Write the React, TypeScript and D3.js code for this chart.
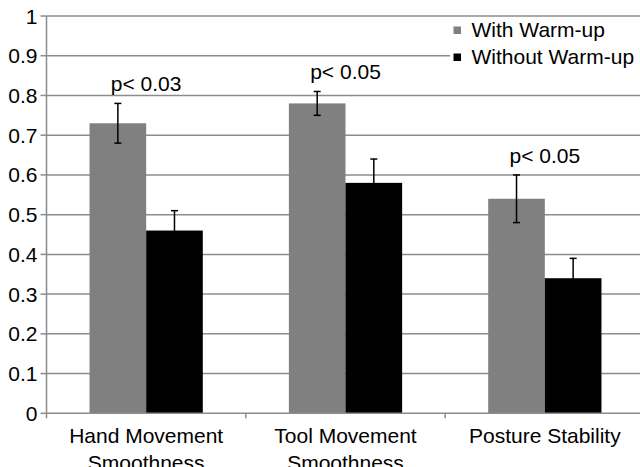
import React from 'react';
import * as d3 from 'd3';

const categories = [
  ['Hand Movement', 'Smoothness'],
  ['Tool Movement', 'Smoothness'],
  ['Posture Stability'],
];
const seriesNames = ['With Warm-up', 'Without Warm-up'];
const withWarmup = [0.73, 0.78, 0.54];
const withWarmupErr = [0.05, 0.03, 0.06];
const withoutWarmup = [0.46, 0.58, 0.34];
const withoutWarmupErr = [0.05, 0.06, 0.05];
const pLabels = ['p< 0.03', 'p< 0.05', 'p< 0.05'];
const yTicks = [0, 0.1, 0.2, 0.3, 0.4, 0.5, 0.6, 0.7, 0.8, 0.9, 1];

const W = 640;
const H = 467;
const FONT = 'Liberation Sans, Arial, sans-serif';
const GRID = '#8c8c8c';
const colors = ['#808080', '#000000'];

export default function App() {
  const left = 46.5;
  const right = 644.5;
  const top = 16;
  const bottom = 413.3;

  const keys = categories.map((c) => c.join(' '));
  const x0 = d3.scaleBand().domain(keys).range([left, right]).padding(0);
  const x1 = d3
    .scaleBand()
    .domain(seriesNames)
    .range([0, x0.bandwidth()])
    .paddingInner(0)
    .paddingOuter(0.76);
  const y = d3.scaleLinear().domain([0, 1]).range([bottom, top]);

  const series = [
    { name: seriesNames[0], values: withWarmup, err: withWarmupErr },
    { name: seriesNames[1], values: withoutWarmup, err: withoutWarmupErr },
  ];

  const fmt = (d: number) => (d === 0 || d === 1 ? String(d) : d.toFixed(1));

  return (
    <svg
      width={W}
      height={H}
      style={{ position: 'absolute', left: 0, top: 0, background: '#fff' }}
      fontFamily={FONT}
    >
      <rect x={0} y={0} width={W} height={H} fill="#fff" />

      {/* grid */}
      {yTicks.slice(1).map((t) => (
        <line key={t} x1={left} x2={W} y1={y(t)} y2={y(t)} stroke={GRID} strokeWidth={1.5} />
      ))}

      {/* bars */}
      {series.map((s, si) =>
        keys.map((k, i) => (
          <rect
            key={`${si}-${k}`}
            x={(x0(k) ?? 0) + (x1(s.name) ?? 0)}
            width={x1.bandwidth()}
            y={y(s.values[i])}
            height={bottom - y(s.values[i])}
            fill={colors[si]}
          />
        ))
      )}

      {/* error bars */}
      {series.map((s, si) =>
        keys.map((k, i) => {
          const cx = (x0(k) ?? 0) + (x1(s.name) ?? 0) + x1.bandwidth() / 2;
          const hi = y(s.values[i] + s.err[i]);
          const lo = y(s.values[i] - s.err[i]);
          return (
            <g key={`e${si}-${k}`} stroke="#000" strokeWidth={1.5}>
              <line x1={cx} x2={cx} y1={hi} y2={lo} />
              <line x1={cx - 3.5} x2={cx + 3.5} y1={hi} y2={hi} />
              <line x1={cx - 3.5} x2={cx + 3.5} y1={lo} y2={lo} />
            </g>
          );
        })
      )}

      {/* p-value labels */}
      {keys.map((k, i) => (
        <text
          key={`p${k}`}
          x={(x0(k) ?? 0) + x0.bandwidth() / 2}
          y={y(withWarmup[i] + withWarmupErr[i]) - 12}
          textAnchor="middle"
          fontSize={21}
          fill="#000"
        >
          {pLabels[i]}
        </text>
      ))}

      {/* axes */}
      <line x1={left} x2={left} y1={top} y2={bottom} stroke={GRID} strokeWidth={1.5} />
      <line x1={left} x2={W} y1={bottom} y2={bottom} stroke={GRID} strokeWidth={1.5} />
      {yTicks.map((t) => (
        <g key={`yt${t}`}>
          <line x1={left - 6} x2={left} y1={y(t)} y2={y(t)} stroke={GRID} strokeWidth={1.5} />
          <text x={left - 9} y={y(t)} dy="0.36em" textAnchor="end" fontSize={21} fill="#000">
            {fmt(t)}
          </text>
        </g>
      ))}
      {keys.map((k) => (
        <line
          key={`xt${k}`}
          x1={x0(k) ?? 0}
          x2={x0(k) ?? 0}
          y1={bottom}
          y2={bottom + 5}
          stroke={GRID}
          strokeWidth={1.5}
        />
      ))}
      {categories.map((c, i) => (
        <text
          key={`c${i}`}
          x={(x0(keys[i]) ?? 0) + x0.bandwidth() / 2}
          y={bottom + 30}
          textAnchor="middle"
          fontSize={21}
          fill="#000"
        >
          {c.map((line, j) => (
            <tspan key={j} x={(x0(keys[i]) ?? 0) + x0.bandwidth() / 2} dy={j === 0 ? 0 : 27}>
              {line}
            </tspan>
          ))}
        </text>
      ))}

      {/* legend */}
      <g>
        <rect x={450} y={22} width={W - 450} height={46} fill="#fff" />
        {seriesNames.map((n, i) => (
          <g key={n} transform={`translate(453.5, ${26.5 + i * 27})`}>
            <rect width={7.5} height={7.5} fill={colors[i]} />
            <text x={18} y={10} fontSize={21} fill="#000">
              {n}
            </text>
          </g>
        ))}
      </g>
    </svg>
  );
}
